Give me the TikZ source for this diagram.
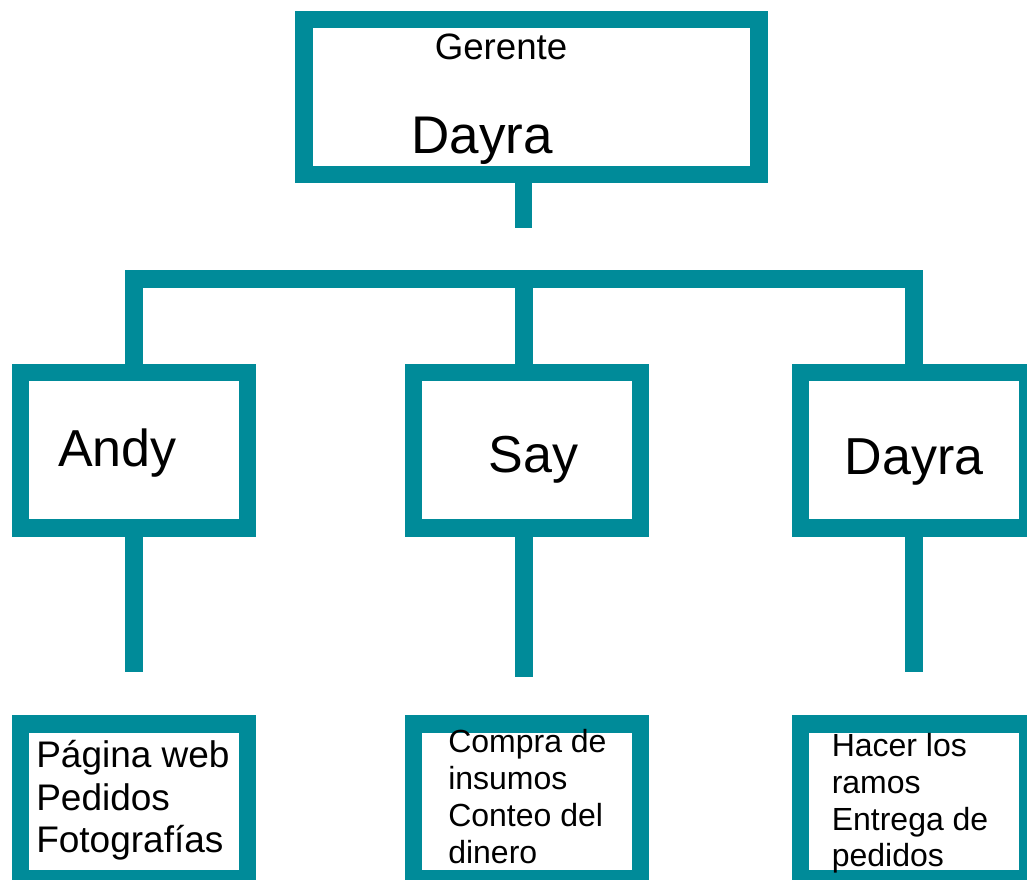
\documentclass[tikz,border=0pt]{standalone}
\usepackage{fontspec}
\setmainfont{Liberation Sans}
\usetikzlibrary{calc}
\definecolor{orgteal}{RGB}{0,139,153}
\begin{document}
\begin{tikzpicture}[x=0.75pt,y=-0.75pt]
\tikzset{
  box/.style={draw=orgteal, line width=13.125pt, fill=white, rectangle, inner sep=0pt},
  topbox/.style={box, minimum width=341.6pt, minimum height=115.9pt},
  midbox/.style={box, minimum width=170.1pt, minimum height=116.4pt},
  conn/.style={draw=orgteal, line width=13.125pt, line join=miter, line cap=butt},
  lbl/.style={inner sep=0pt, text=black},
  bigtxt/.style={lbl, anchor=base, font=\fontsize{39}{44}\selectfont},
  tasktxt/.style={lbl, anchor=base west, align=left, font=\fontsize{24}{27.6}\selectfont},
}
\useasboundingbox (0,0) rectangle (1027,879);
\clip (0,0) rectangle (1027,879);
\fill[white] (0,0) rectangle (1027,879);

% boxes
\node[topbox] (top) at (531.5,97) {};
\node[midbox] (m1) at (133.9,450.3) {};
\node[midbox] (m2) at (527.1,450.3) {};
\node[midbox] (m3) at (913.9,450.3) {};
\node[midbox] (b1) at (133.9,801.6) {};
\node[midbox] (b2) at (527.1,801.6) {};
\node[midbox] (b3) at (913.9,801.6) {};

% connectors
\coordinate (tc) at (523.5,228);
\coordinate (bar) at (0,279);
\coordinate (m2n) at ($(m2.north)+(-3,0)$);
\coordinate (m2s) at ($(m2.south)+(-3,0)$);
\coordinate (e1) at (133.9,671.7);
\coordinate (e2) at (524.1,677.3);
\coordinate (e3) at (913.9,671.7);
\draw[conn] (tc |- top.south) -- (tc);
\draw[conn] (m1.north) -- (m1.north |- bar) -- (m3.north |- bar) -- (m3.north);
\draw[conn] (m2n |- bar) -- (m2n);
\draw[conn] (m1.south) -- (e1);
\draw[conn] (m2s) -- (e2);
\draw[conn] (m3.south) -- (e3);

% texts (multi-line nodes: base = baseline of last line)
\node[lbl, anchor=base, font=\fontsize{27.5}{31}\selectfont] (tg) at (501,59.3) {Gerente};
\node[bigtxt, font=\fontsize{39.75}{44}\selectfont] (td) at (482,153.3) {Dayra};
\node[bigtxt] (t1) at (117.5,466.7) {Andy};
\node[bigtxt] (t2) at (533.5,472.7) {Say};
\node[bigtxt] (t3) at (914,474) {Dayra};
\node[tasktxt, font=\fontsize{27.75}{32}\selectfont] (k1) at (36,852.7) {Página web\\Pedidos\\Fotografías};
\node[tasktxt] (k2) at (448,863.3) {Compra de\\insumos\\Conteo del\\dinero};
\node[tasktxt] (k3) at (831.5,866.8) {Hacer los\\ramos\\Entrega de\\pedidos};
\end{tikzpicture}
\end{document}
